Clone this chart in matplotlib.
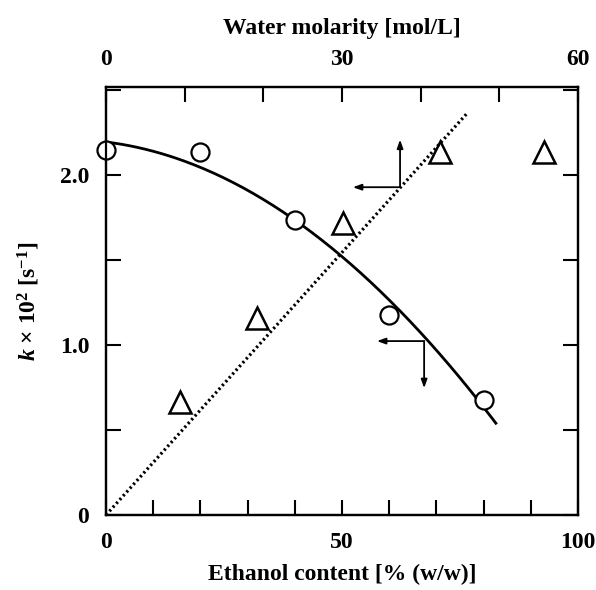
#! /usr/bin/env python

import numpy as np
import matplotlib as mpl
mpl.use('Agg')
import matplotlib.pyplot as plt

#~~~~~~~~ Input ~~~~~~~~~~~~
# rate constant vs ethanol content (circles, bottom axis)
ethanol = [0, 20, 40, 60, 80]
k_ethanol = [2.15, 2.14, 1.735, 1.175, 0.68]

# rate constant vs water molarity (triangles, top axis)
water = [9.4, 19.2, 30.1, 42.5, 55.7]
k_water = [0.665, 1.16, 1.72, 2.135, 2.135]

# straight dotted line through the origin (water molarity, k)
line_water = [0, 45.8]
line_k = [0, 2.36]

fit_end = 82.6    # solid curve drawn up to this ethanol content
#~~~~~~~~~~~~~~~~~~~~~~~~~~~

mpl.rcParams['font.family'] = 'Liberation Serif'
mpl.rcParams['font.weight'] = 'bold'
mpl.rcParams['mathtext.fontset'] = 'custom'
mpl.rcParams['mathtext.rm'] = 'Liberation Serif:bold'
mpl.rcParams['mathtext.it'] = 'Liberation Serif:bold:italic'

fs = 17
lw_ax = 1.6

fig = plt.figure(figsize=(5.96, 5.90), dpi=100)
ax = fig.add_axes([106/596, 1-515/590, (578-106)/596, (515-87)/590])

# quadratic fit of k vs ethanol content
coef = np.polyfit(ethanol, k_ethanol, 2)
xf = np.linspace(0, fit_end, 200)
ax.plot(xf, np.polyval(coef, xf), '-', color='black', lw=2)
ax.plot(ethanol, k_ethanol, 'o', ms=13, mfc='white', mec='black', mew=1.6,
        clip_on=False, zorder=5)

ax.set_xlim(0, 100)
ax.set_ylim(0, 2.52)
ax.set_xticks([0, 50, 100])
ax.set_xticklabels(['0', '50', '100'])
ax.set_xticks(np.arange(0, 101, 10), minor=True)
ax.set_yticks([0, 1.0, 2.0])
ax.set_yticklabels(['0', '1.0', '2.0'])
ax.set_yticks(np.arange(0, 2.51, 0.5), minor=True)
ax.tick_params(which='both', direction='in', length=10.5, width=1.5,
               labelsize=fs, right=True, top=False)
ax.tick_params(axis='x', pad=12)
ax.tick_params(axis='y', pad=12)
for s in ax.spines.values():
    s.set_linewidth(lw_ax)

ax.set_xlabel('Ethanol content [% (w/w)]', fontsize=fs, fontweight='bold', labelpad=8)
ax.set_ylabel(r'$\mathit{k}$ × 10$^{\mathrm{2}}$ [s$^{\mathrm{-1}}$]',
              fontsize=fs, fontweight='bold', labelpad=13)

# top axis: water molarity
ax2 = ax.twiny()
ax2.set_xlim(0, 60)
ax2.set_xticks([0, 30, 60])
ax2.set_xticklabels(['0', '30', '60'])
ax2.set_xticks(np.arange(0, 61, 10), minor=True)
ax2.tick_params(which='both', direction='in', length=10.5, width=1.5,
                labelsize=fs, pad=12)
ax2.plot(line_water, line_k, color='black', lw=2.3, ls=(0, (0.7, 0.9)))
ax2.plot(water, k_water, '^', ms=16, mfc='none', mec='black', mew=1.8,
         clip_on=False, zorder=5)
ax2.set_xlabel('Water molarity [mol/L]', fontsize=fs, fontweight='bold', labelpad=11)
for s in ax2.spines.values():
    s.set_linewidth(lw_ax)

# arrows telling which axis each set belongs to
arw = dict(arrowstyle='-|>,head_length=0.5,head_width=0.18', color='black',
           lw=1.3, shrinkA=0, shrinkB=0)
ax.annotate('', xy=(52.3, 1.93), xytext=(62.3, 1.93), arrowprops=arw)
ax.annotate('', xy=(62.3, 2.21), xytext=(62.3, 1.93), arrowprops=arw)
ax.annotate('', xy=(57.4, 1.024), xytext=(67.4, 1.024), arrowprops=arw)
ax.annotate('', xy=(67.4, 0.747), xytext=(67.4, 1.024), arrowprops=arw)

fig.savefig('out.png', dpi=100)
